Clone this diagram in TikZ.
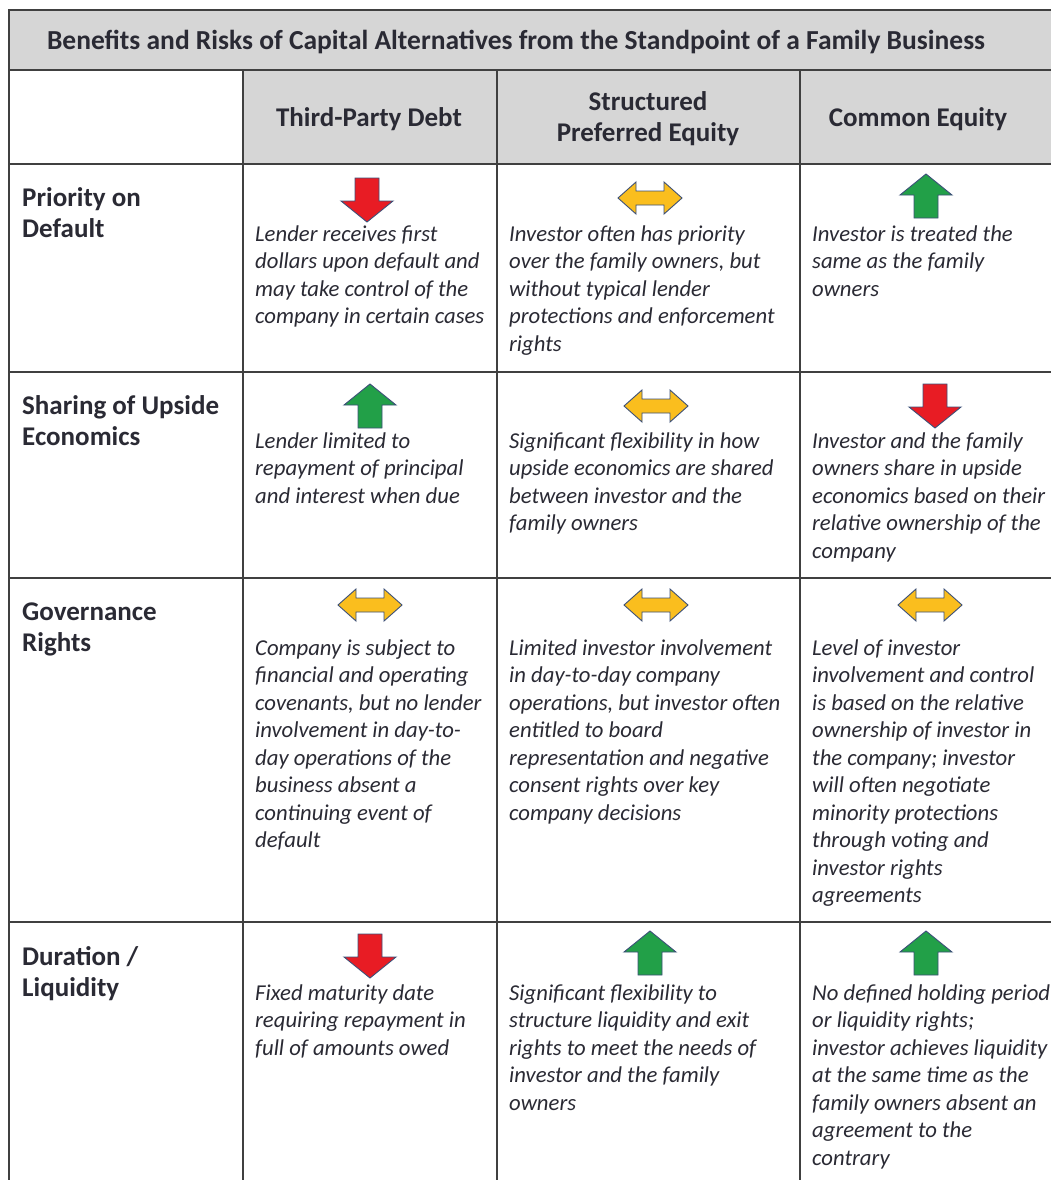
\documentclass[tikz,border=0pt]{standalone}
\usepackage{fontspec}
\setmainfont{Carlito}
\definecolor{hdrgray}{RGB}{214,214,214}
\definecolor{gridc}{RGB}{64,64,64}
\definecolor{txt}{RGB}{42,42,52}
\definecolor{arrred}{RGB}{232,28,36}
\definecolor{arrgreen}{RGB}{34,160,72}
\definecolor{arryellow}{RGB}{250,190,30}
\definecolor{arredge}{RGB}{60,80,120}
\tikzset{
  grid/.style={draw=gridc, line width=1.8pt},
  arrowline/.style={draw=arredge, line width=0.9pt, line join=miter},
  body/.style={font=\itshape\fontsize{22.7}{27.5}\selectfont, align=left, anchor=north west, inner sep=0pt, text=txt},
  rowlab/.style={font=\bfseries\fontsize{27}{31}\selectfont, align=left, anchor=north west, inner sep=0pt, text=txt},
  colhead/.style={font=\bfseries\fontsize{27}{31}\selectfont, align=center, inner sep=0pt, text=txt},
  titletext/.style={font=\bfseries\fontsize{27.5}{30}\selectfont, inner sep=0pt, text=txt},
  uparr/.pic={\path[arrowline, fill=arrgreen] (0,-22) -- (26,-1) -- (12,-1) -- (12,22) -- (-12,22) -- (-12,-1) -- (-26,-1) -- cycle;},
  downarr/.pic={\path[arrowline, fill=arrred] (0,22) -- (26,1) -- (12,1) -- (12,-22) -- (-12,-22) -- (-12,1) -- (-26,1) -- cycle;},
  bothArr/.pic={\path[arrowline, fill=arryellow] (-32,0) -- (-14,-16) -- (-14,-7) -- (14,-7) -- (14,-16) -- (32,0) -- (14,16) -- (14,7) -- (-14,7) -- (-14,16) -- cycle;}
}
\newcommand{\sst}{\rule{0pt}{18pt}}
\newcommand{\lst}{\rule{0pt}{21pt}}
\begin{document}
\begin{tikzpicture}[x=1pt,y=-1pt]
\useasboundingbox[fill=white] (0,0) rectangle (1051,1180);
% fills
\fill[hdrgray] (9,10) rectangle (1051,70);
\fill[hdrgray] (243,70) rectangle (1051,164);
% grid
\foreach \yy in {10,70,164,372,578,922} \draw[grid] (8.1,\yy) -- (1051,\yy);
\draw[grid] (9,10) -- (9,1180);
\foreach \xx in {243,497,800} \draw[grid] (\xx,70) -- (\xx,1180);
% title and headers
\node[titletext] (title) at (516,42) {Benefits and Risks of Capital Alternatives from the Standpoint of a Family Business};
\node[colhead] (h1) at (369,119) {Third-Party Debt};
\node[colhead] (h2) at (648,119) {Structured\\Preferred Equity};
\node[colhead] (h3) at (918,119) {Common Equity};
% row labels
\node[rowlab] (r1) at (22,185) {\lst Priority on\\Default};
\node[rowlab] (r2) at (22,393) {\lst Sharing of Upside\\Economics};
\node[rowlab] (r3) at (22,599) {\lst Governance\\Rights};
\node[rowlab] (r4) at (22,944) {\lst Duration /\\Liquidity};
% arrows
\pic at (367,200) {downarr};
\pic at (650,198) {bothArr};
\pic at (926,196) {uparr};
\pic at (370,406) {uparr};
\pic at (656,406) {bothArr};
\pic at (935,406) {downarr};
\pic at (370,605) {bothArr};
\pic at (656,605) {bothArr};
\pic at (930,605) {bothArr};
\pic at (370,956) {downarr};
\pic at (650,953) {uparr};
\pic at (926,953) {uparr};
% row 1 text
\node[body] (c11) at (255,223) {\sst Lender receives first\\dollars upon default and\\may take control of the\\company in certain cases};
\node[body] (c12) at (509,223) {\sst Investor often has priority\\over the family owners, but\\without typical lender\\protections and enforcement\\rights};
\node[body] (c13) at (812,223) {\sst Investor is treated the\\same as the family\\owners};
% row 2 text
\node[body] (c21) at (255,430) {\sst Lender limited to\\repayment of principal\\and interest when due};
\node[body] (c22) at (509,430) {\sst Significant flexibility in how\\upside economics are shared\\between investor and the\\family owners};
\node[body] (c23) at (812,430) {\sst Investor and the family\\owners share in upside\\economics based on their\\relative ownership of the\\company};
% row 3 text
\node[body] (c31) at (255,637) {\sst Company is subject to\\financial and operating\\covenants, but no lender\\involvement in day-to-\\day operations of the\\business absent a\\continuing event of\\default};
\node[body] (c32) at (509,637) {\sst Limited investor involvement\\in day-to-day company\\operations, but investor often\\entitled to board\\representation and negative\\consent rights over key\\company decisions};
\node[body] (c33) at (812,637) {\sst Level of investor\\involvement and control\\is based on the relative\\ownership of investor in\\the company; investor\\will often negotiate\\minority protections\\through voting and\\investor rights\\agreements};
% row 4 text
\node[body] (c41) at (255,982) {\sst Fixed maturity date\\requiring repayment in\\full of amounts owed};
\node[body] (c42) at (509,982) {\sst Significant flexibility to\\structure liquidity and exit\\rights to meet the needs of\\investor and the family\\owners};
\node[body] (c43) at (812,982) {\sst No defined holding period\\or liquidity rights;\\investor achieves liquidity\\at the same time as the\\family owners absent an\\agreement to the\\contrary};
\end{tikzpicture}
\end{document}
